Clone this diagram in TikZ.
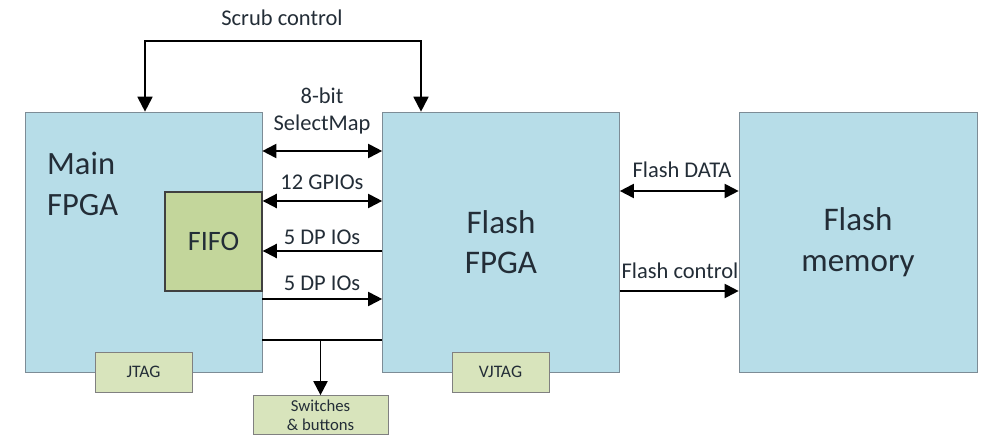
\documentclass[tikz,border=0pt]{standalone}
\usepackage{fontspec}
\setmainfont{Carlito}
\usetikzlibrary{arrows.meta,positioning,calc}
\definecolor{fpgablue}{RGB}{183,221,232}
\definecolor{blkline}{RGB}{125,140,150}
\definecolor{fifogreen}{RGB}{195,214,155}
\definecolor{portgreen}{RGB}{216,228,188}
\definecolor{portline}{RGB}{128,128,128}
\definecolor{txt}{RGB}{35,45,55}

\begin{document}
\begin{tikzpicture}[x=0.02cm, y=-0.02cm,
  font=\fontsize{12.8}{15}\selectfont, text=txt,
  blk/.style={draw=blkline, fill=fpgablue, minimum width=4.74cm, minimum height=5.2cm, inner sep=0pt,
    align=center, font=\fontsize{18.8}{23}\selectfont},
  fifo/.style={draw=black!75, thick, fill=fifogreen, minimum width=1.94cm, minimum height=1.98cm,
    inner sep=0pt, font=\fontsize{16}{19}\selectfont},
  port/.style={draw=portline, fill=portgreen, minimum width=1.94cm, minimum height=0.8cm, inner sep=0pt,
    align=center, font=\fontsize{10}{11.5}\selectfont},
  bus/.style={{Triangle[length=8pt,width=8pt]}-{Triangle[length=8pt,width=8pt]}, line width=1.1pt},
  sig/.style={-{Triangle[length=8pt,width=8pt]}, line width=1.1pt},
  wire/.style={line width=1.1pt}]
\useasboundingbox (0,0) rectangle (983,435);
% blocks
\node[blk] (main) at (143.5,242) {};
\node[anchor=west, align=left, font=\fontsize{18.5}{23}\selectfont] (mainlbl) at (41,184) {Main\\FPGA};
\node[fifo] (fifo) at (213.5,241.5) {FIFO};
\node[port] (jtag) at (143.5,372) {JTAG};
\node[blk] (ffpga) at (501,242) {Flash\\FPGA};
\node[port] (vjtag) at (500.5,372) {VJTAG};
\node[blk, minimum width=4.76cm] (fmem) at (858,242) {Flash\\memory};
\node[port, minimum width=2.7cm, minimum height=0.78cm, font=\fontsize{9.5}{11}\selectfont] (sw) at (320.5,415) {Switches\\\& buttons};
% links between the FPGAs
\draw[bus] (main.east |- 0,151) -- (ffpga.west |- 0,151);
\draw[bus] (fifo.east |- 0,201) -- (ffpga.west |- 0,201);
\draw[sig] (ffpga.west |- 0,251) -- (fifo.east |- 0,251);
\draw[sig] (main.east |- 0,299) -- (ffpga.west |- 0,299);
\draw[wire] (main.east |- 0,340) -- (ffpga.west |- 0,340);
\draw[sig] (sw.north |- 0,340) -- (sw.north);
\draw[{Triangle[length=8.5pt,width=8.5pt]}-{Triangle[length=8.5pt,width=8.5pt]}, line width=1.1pt]
  (main.north -| 145,0) -- ++(0,-71) -| (ffpga.north -| 421,0);
% links to the flash
\draw[bus] (ffpga.east |- 0,191) -- (fmem.west |- 0,191);
\draw[sig] (ffpga.east |- 0,291) -- (fmem.west |- 0,291);
% labels
\node (scrub) at (282,18) {Scrub control};
\node[align=center] (smap) at (322,111) {8-bit\\SelectMap};
\node (gpio) at (322,182) {12 GPIOs};
\node (dpin) at (322,237) {5 DP IOs};
\node (dpout) at (322,283) {5 DP IOs};
\node (fdata) at (682,170) {Flash DATA};
\node (fctrl) at (680,271) {Flash control};
\end{tikzpicture}
\end{document}
